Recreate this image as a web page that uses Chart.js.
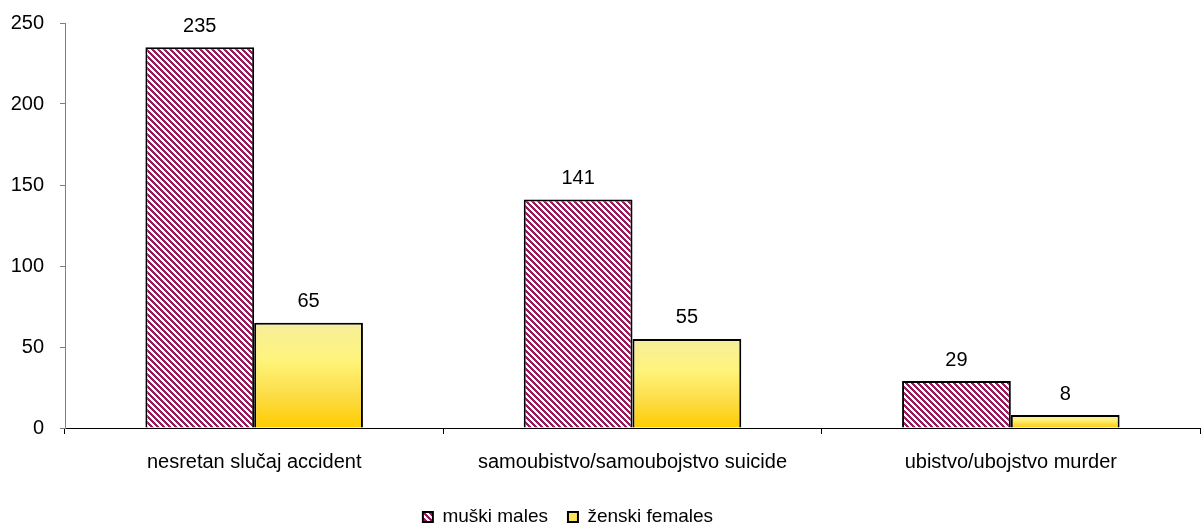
<!DOCTYPE html>
<html lang="hr">
<head>
    <meta charset="UTF-8">
    <title>Nasilne smrti po spolu</title>
    <script src="https://cdn.jsdelivr.net/npm/chart.js"></script>
    <style>
        html, body {
            margin: 0;
            padding: 0;
            background: #fff;
        }
        #wrap {
            width: 1204px;
            height: 529px;
        }
    </style>
</head>
<body>
    <div id="wrap"><canvas id="myChart"></canvas></div>
    <script>
        const categories = ['nesretan slučaj accident', 'samoubistvo/samoubojstvo suicide', 'ubistvo/ubojstvo murder'];
        const males = [235, 141, 29];
        const females = [65, 55, 8];
        const seriesNames = ['muški males', 'ženski females'];
        const yTicks = [0, 50, 100, 150, 200, 250];

        const FONT = '"Liberation Sans", Arial, sans-serif';
        const MAROON = '#991a5c';
        const PLOT_BOTTOM = 428;   // y os (0) u originalu
        const LEGEND_Y = 517;      // sredina reda legende

        // kosa šrafura za muške stupce
        function makeStripes() {
            const c = document.createElement('canvas');
            c.width = 6;
            c.height = 6;
            const g = c.getContext('2d');
            g.fillStyle = '#fff';
            g.fillRect(0, 0, 6, 6);
            g.fillStyle = MAROON;
            for (let y = 0; y < 6; y++) {
                for (let x = 0; x < 6; x++) {
                    if (((x - y + 6) % 6) < 3) g.fillRect(x, y, 1, 1);
                }
            }
            return g.createPattern(c, 'repeat');
        }
        const stripes = makeStripes();

        // gradijent za svaki ženski stupac posebno
        function yellowFill(c) {
            const chart = c.chart;
            if (!chart.chartArea || !c.parsed) return '#fde35a';
            const y = chart.scales.y;
            const top = y.getPixelForValue(c.parsed.y);
            const bottom = y.getPixelForValue(0);
            const g = chart.ctx.createLinearGradient(0, top, 0, bottom);
            g.addColorStop(0, '#f6ee9c');
            g.addColorStop(0.35, '#fff47c');
            g.addColorStop(0.7, '#fcdc44');
            g.addColorStop(1, '#ffcc00');
            return g;
        }

        const valueLabels = {
            id: 'valueLabels',
            afterDatasetsDraw(chart) {
                const ctx = chart.ctx;
                ctx.save();
                ctx.font = '20px ' + FONT;
                ctx.fillStyle = '#000';
                ctx.textAlign = 'center';
                ctx.textBaseline = 'middle';
                chart.data.datasets.forEach((ds, i) => {
                    chart.getDatasetMeta(i).data.forEach((bar, j) => {
                        ctx.fillText(ds.data[j], bar.x, bar.y - 21);
                    });
                });
                ctx.restore();
            }
        };

        // legenda u originalu nije centrirana na sredinu slike
        const legendShift = {
            id: 'legendShift',
            afterLayout(chart) {
                const lg = chart.legend;
                const pad = lg.options.labels.padding;
                const hb = lg.legendHitBoxes && lg.legendHitBoxes[0];
                const itemH = (hb && hb.height) || 19;
                let dy = LEGEND_Y - (lg.top + pad + itemH / 2);
                if (!isFinite(dy)) dy = 0;
                lg.left -= 32;
                lg.right -= 32;
                lg.top += dy;
                lg.bottom += dy;
            }
        };

        const ctx = document.getElementById('myChart').getContext('2d');
        const myChart = new Chart(ctx, {
            type: 'bar',
            data: {
                labels: categories,
                datasets: [
                    {
                        label: seriesNames[0],
                        data: males,
                        backgroundColor: stripes,
                        borderColor: '#000',
                        borderWidth: 2
                    },
                    {
                        label: seriesNames[1],
                        data: females,
                        backgroundColor: yellowFill,
                        borderColor: '#000',
                        borderWidth: 2
                    }
                ]
            },
            options: {
                responsive: true,
                maintainAspectRatio: false,
                animation: false,
                devicePixelRatio: 1,
                layout: {
                    padding: { top: 23, right: 4, bottom: 0, left: 0 }
                },
                datasets: {
                    bar: {
                        categoryPercentage: 0.575,
                        barPercentage: 1
                    }
                },
                scales: {
                    x: {
                        grid: {
                            offset: true,
                            drawOnChartArea: false,
                            tickLength: 6,
                            color: '#000'
                        },
                        border: { color: '#000', width: 1 },
                        ticks: {
                            color: '#000',
                            padding: 16,
                            maxRotation: 0,
                            font: { family: FONT, size: 20 }
                        },
                        afterFit(scale) {
                            scale.height = 529 - PLOT_BOTTOM - scale.chart.legend.height;
                        }
                    },
                    y: {
                        min: 0,
                        max: 250,
                        afterBuildTicks(scale) {
                            scale.ticks = yTicks.map(v => ({ value: v }));
                        },
                        grid: {
                            drawOnChartArea: false,
                            tickLength: 5,
                            color: '#808080'
                        },
                        border: { color: '#808080', width: 1 },
                        ticks: {
                            color: '#000',
                            padding: 16,
                            font: { family: FONT, size: 20 }
                        },
                        afterFit(scale) {
                            scale.width = 65;
                            scale.paddingTop = 0;
                            scale.paddingBottom = 0;
                        }
                    }
                },
                plugins: {
                    tooltip: { enabled: false },
                    legend: {
                        position: 'bottom',
                        labels: {
                            color: '#000',
                            boxWidth: 10,
                            boxHeight: 10,
                            padding: 20,
                            font: { family: FONT, size: 19 },
                            generateLabels(chart) {
                                return chart.data.datasets.map((ds, i) => ({
                                    text: ds.label,
                                    fillStyle: i === 0 ? stripes : '#fde35a',
                                    strokeStyle: '#000',
                                    lineWidth: 2,
                                    fontColor: '#000',
                                    datasetIndex: i
                                }));
                            }
                        }
                    }
                }
            },
            plugins: [valueLabels, legendShift]
        });
    </script>
</body>
</html>
